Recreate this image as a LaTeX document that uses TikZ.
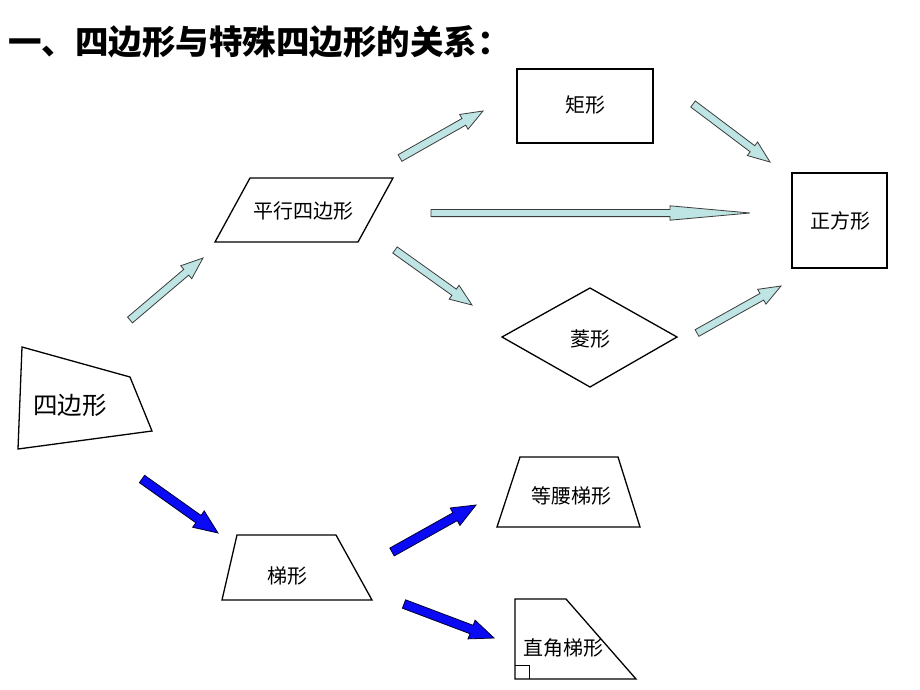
\documentclass[tikz,border=0pt]{standalone}
\usepackage{fontspec}
\setmainfont{Noto Sans CJK SC}
\usetikzlibrary{calc}
\definecolor{paleblue}{RGB}{190,228,228}
\definecolor{edgegray}{RGB}{60,60,60}
\definecolor{strongblue}{RGB}{10,10,245}
\tikzset{
  shapeline/.style={draw=black, line width=1.3pt, line join=miter},
  lbl/.style={font=\fontsize{20}{20}\selectfont, inner sep=0pt},
  lightarrow/.style={fill=paleblue, draw=edgegray, line width=0.8pt, line join=miter},
  bluearrow/.style={fill=strongblue, draw=black!80!blue, line width=0.8pt, line join=miter}
}
\newcommand\blkarrow[6]{%
  \coordinate (hb) at ($(#2)!#5!(#1)$);
  \path[#6] ($(#1)!#3!90:(#2)$) -- ($(hb)!#3!90:(#2)$) -- ($(hb)!#4!90:(#2)$)
    -- (#2) -- ($(hb)!#4!-90:(#2)$) -- ($(hb)!#3!-90:(#2)$) -- ($(#1)!#3!-90:(#2)$) -- cycle;
}
\begin{document}
\begin{tikzpicture}[x=1pt,y=-1pt]
\useasboundingbox[fill=white] (0,0) rectangle (920,690);

% title
\node[anchor=west, inner sep=0pt, font=\fontsize{33.5}{33.5}\selectfont\bfseries] (title) at (8,42) {一、四边形与特殊四边形的关系：};

% shapes
\draw[shapeline] (517,69) rectangle (653,143);
\node[lbl] (rect) at (585,105) {矩形};

\draw[shapeline] (792,173) rectangle (887,268);
\node[lbl] (square) at (840,221) {正方形};

\draw[shapeline] (215,242) -- (250,178) -- (393,178) -- (358,242) -- cycle;
\node[lbl] (para) at (303,211) {平行四边形};

\draw[shapeline] (502,337) -- (590,288) -- (677,337) -- (590,387) -- cycle;
\node[lbl] (rhombus) at (590,339) {菱形};

\draw[shapeline] (22,347) -- (130,377) -- (152,431) -- (18,449) -- cycle;
\node[inner sep=0pt, font=\fontsize{24.5}{24.5}\selectfont] (quad) at (70,405) {四边形};

\draw[shapeline] (222,600) -- (237,535) -- (336,535) -- (372,600) -- cycle;
\node[lbl] (trap) at (287,576) {梯形};

\draw[shapeline] (497,527) -- (520,457) -- (618,457) -- (640,527) -- cycle;
\node[lbl] (iso) at (571,496) {等腰梯形};

\draw[shapeline] (515,599) -- (566,599) -- (636,679) -- (515,679) -- cycle;
\draw[line width=0.9pt] (515,665) -- (529,665) -- (529,679);
\node[lbl] (right) at (563,648) {直角梯形};

% arrow end points
\coordinate (a1s) at (130,320); \coordinate (a1e) at (203,258);
\coordinate (a2s) at (400,158); \coordinate (a2e) at (483,111);
\coordinate (a3s) at (431,213); \coordinate (a3e) at (750,213);
\coordinate (a4s) at (395,250); \coordinate (a4e) at (472,305);
\coordinate (a5s) at (693,104); \coordinate (a5e) at (770,162);
\coordinate (a6s) at (697,333); \coordinate (a6e) at (781,286);
\coordinate (b1s) at (142,479); \coordinate (b1e) at (218,533);
\coordinate (b2s) at (392,552); \coordinate (b2e) at (476,505);
\coordinate (b3s) at (404,604); \coordinate (b3e) at (494,638);

\blkarrow{a1s}{a1e}{3.8pt}{8.5pt}{22pt}{lightarrow}
\blkarrow{a2s}{a2e}{3.8pt}{8.5pt}{22pt}{lightarrow}
\blkarrow{a3s}{a3e}{3.6pt}{7.2pt}{80pt}{lightarrow}
\blkarrow{a4s}{a4e}{3.8pt}{8.5pt}{22pt}{lightarrow}
\blkarrow{a5s}{a5e}{3.8pt}{8.5pt}{22pt}{lightarrow}
\blkarrow{a6s}{a6e}{3.8pt}{8.5pt}{22pt}{lightarrow}

\blkarrow{b1s}{b1e}{4.5pt}{10pt}{24pt}{bluearrow}
\blkarrow{b2s}{b2e}{4.5pt}{10pt}{24pt}{bluearrow}
\blkarrow{b3s}{b3e}{4.5pt}{10pt}{24pt}{bluearrow}
\end{tikzpicture}
\end{document}
